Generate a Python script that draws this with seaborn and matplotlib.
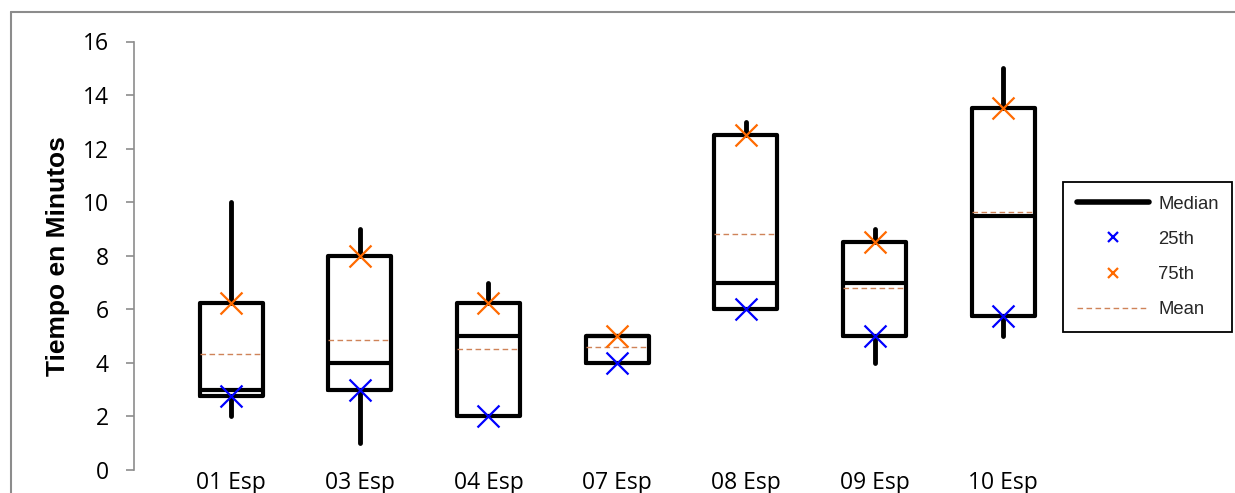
import numpy as np
import pandas as pd
import matplotlib
matplotlib.use("Agg")
import matplotlib.pyplot as plt
import seaborn as sns
from matplotlib.lines import Line2D

# ---- data ----
categories = ["01 Esp", "03 Esp", "04 Esp", "07 Esp", "08 Esp", "09 Esp", "10 Esp"]
minimum = [2, 1, 2, 4, 6, 4, 5]
q1 = [2.75, 3, 2, 4, 6, 5, 5.75]
median = [3, 4, 5, 5, 7, 7, 9.5]
q3 = [6.25, 8, 6.25, 5, 12.5, 8.5, 13.5]
maximum = [10, 9, 7, 5, 13, 9, 15]
mean = [4.35, 4.87, 4.5, 4.6, 8.8, 6.8, 9.65]
y_ticks = [0, 2, 4, 6, 8, 10, 12, 14, 16]
legend_labels = ["Median", "25th", "75th", "Mean"]

BLUE = "#0000FF"
ORANGE = "#FF6A00"
MEANC = "#CF8358"
GRAY = "#8C8C8C"

sns.set_theme(style="white")
plt.rcParams["font.family"] = ["Open Sans", "DejaVu Sans"]

fig = plt.figure(figsize=(12.35, 4.93), dpi=100)
ax = fig.add_axes([134 / 1235, 23 / 493, 926 / 1235, 428.5 / 493])

positions = np.arange(len(categories))
stats = []
for i in range(len(categories)):
    stats.append(dict(med=median[i], q1=q1[i], q3=q3[i], whislo=minimum[i],
                      whishi=maximum[i], mean=mean[i], fliers=[]))

ax.bxp(stats, positions=positions, widths=0.49, showmeans=True, meanline=True,
       showcaps=False, showfliers=False, manage_ticks=False,
       boxprops=dict(color="black", lw=3, solid_joinstyle="round", solid_capstyle="round"),
       whiskerprops=dict(color="black", lw=3.5, solid_capstyle="round"),
       medianprops=dict(color="black", lw=3, solid_capstyle="butt"),
       meanprops=dict(color=MEANC, lw=1.0, linestyle=(0, (4, 2.5))))

df = pd.DataFrame({"pos": positions, "q1": q1, "q3": q3})
sns.scatterplot(data=df, x="pos", y="q1", marker="x", color=BLUE, s=250,
                linewidth=1.6, ax=ax, zorder=5, legend=False)
sns.scatterplot(data=df, x="pos", y="q3", marker="x", color=ORANGE, s=250,
                linewidth=1.6, ax=ax, zorder=5, legend=False)

ax.set_xlim(-0.754, 6.44)
ax.set_ylim(0, 16)
ax.set_yticks(y_ticks)
ax.set_yticklabels([str(t) for t in y_ticks], fontsize=16.5, color="black")
ax.set_xticks(positions)
ax.set_xticklabels(categories, fontsize=16.5, color="black")
ax.set_xlabel("")
ax.set_ylabel("Tiempo en Minutos", fontsize=19, fontweight="bold",
              family=["Liberation Sans", "DejaVu Sans"], color="black")
ax.yaxis.set_label_coords(-0.069, 0.5)

for s in ["top", "right", "bottom"]:
    ax.spines[s].set_visible(False)
ax.spines["left"].set_color(GRAY)
ax.spines["left"].set_linewidth(1.2)
ax.tick_params(axis="y", direction="out", length=6, width=1.2, color=GRAY, pad=12, left=True)
ax.tick_params(axis="x", length=0, pad=1)
ax.grid(False)
ax.set_facecolor("white")

handles = [
    Line2D([], [], color="black", lw=4, solid_capstyle="round"),
    Line2D([], [], color=BLUE, marker="x", linestyle="none", markersize=7, mew=1.6),
    Line2D([], [], color=ORANGE, marker="x", linestyle="none", markersize=7, mew=1.6),
    Line2D([], [], color=MEANC, lw=1.0, linestyle=(0, (4, 2.5))),
]
leg = fig.legend(handles, legend_labels, loc="upper left",
                 bbox_to_anchor=(1063 / 1235, 1 - 182 / 493), borderaxespad=0,
                 prop=dict(family=["Liberation Sans", "DejaVu Sans"], size=13.3),
                 handlelength=3.9, handletextpad=0.5, labelspacing=0.98,
                 borderpad=0.75, fancybox=False, frameon=True, framealpha=1)
leg.get_frame().set_edgecolor("black")
leg.get_frame().set_linewidth(1.3)

# outer chart border (partially visible: left and top)
fig.add_artist(Line2D([10.5 / 1235, 10.5 / 1235], [0, 1 - 12 / 493],
                      transform=fig.transFigure, color=GRAY, lw=1.5))
fig.add_artist(Line2D([10.5 / 1235, 1], [1 - 12 / 493, 1 - 12 / 493],
                      transform=fig.transFigure, color=GRAY, lw=1.5))

fig.savefig("out.png", dpi=100, facecolor="white")
